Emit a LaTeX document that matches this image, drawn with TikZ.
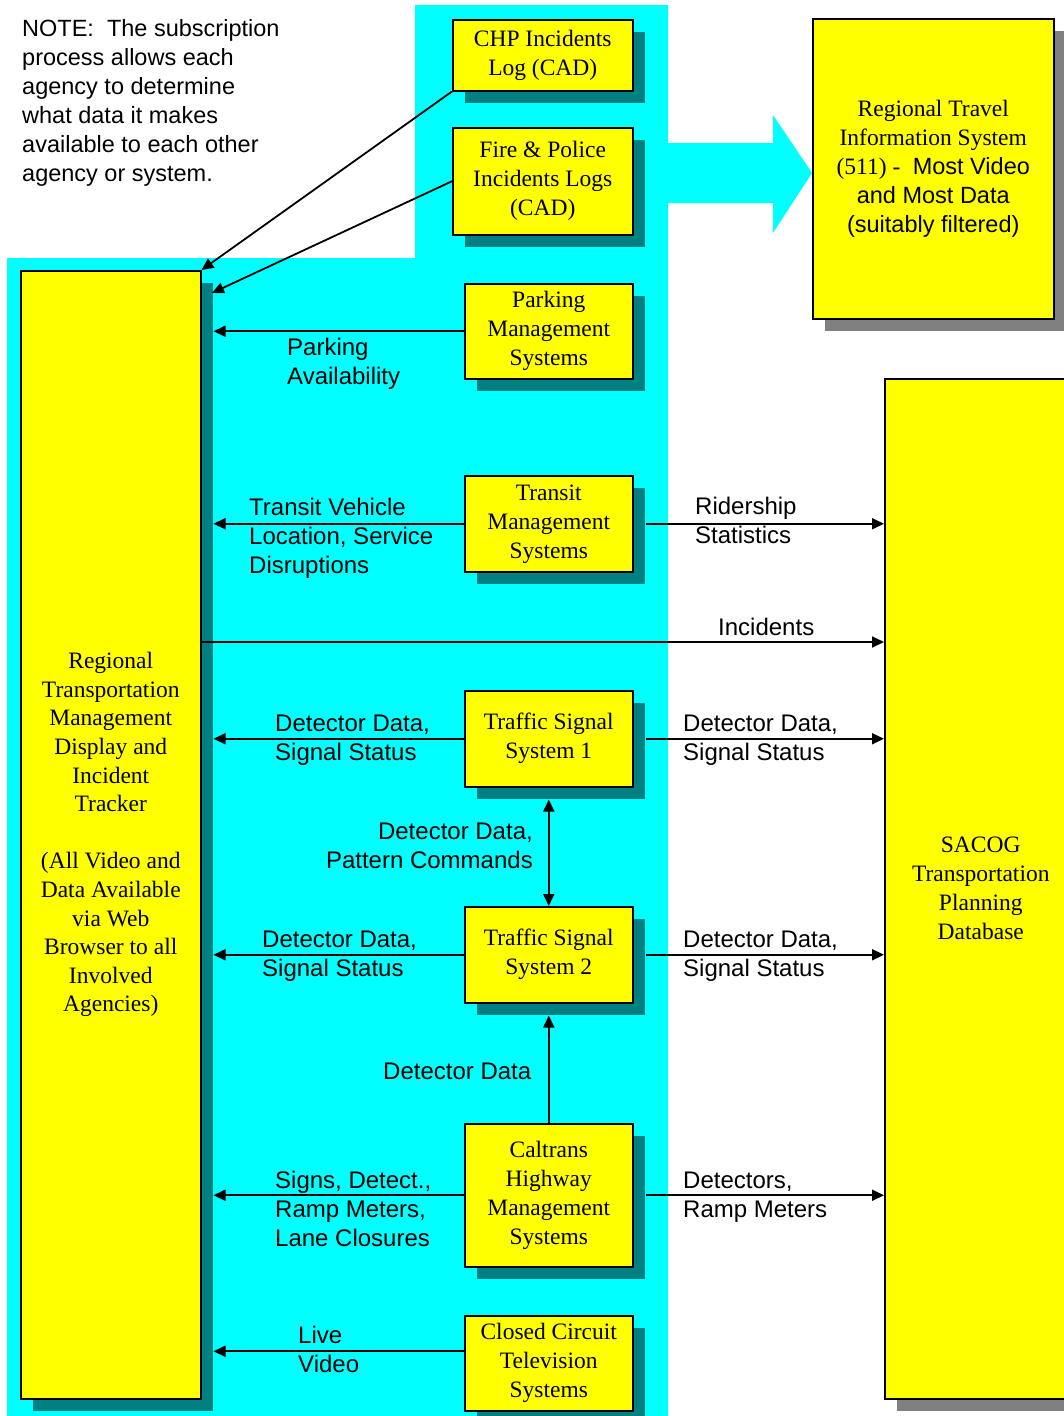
\documentclass[tikz,border=0pt]{standalone}
\usepackage{fontspec}
\setmainfont{Liberation Serif}
\setsansfont{Liberation Sans}
\usetikzlibrary{arrows.meta,shadows,calc}
\definecolor{cy}{RGB}{0,255,255}
\definecolor{yl}{RGB}{255,255,0}
\definecolor{tl}{RGB}{0,128,128}
\definecolor{gr}{RGB}{128,128,128}
\begin{document}
\begin{tikzpicture}[x=1pt,y=-1pt,
  box/.style={draw=black, line width=1.5pt, fill=yl, inner sep=0pt, align=center,
    font=\fontsize{23.5}{29}\selectfont, anchor=north west},
  tsh/.style={drop shadow={shadow xshift=12pt,shadow yshift=-12pt,fill=tl,opacity=1}},
  gsh/.style={drop shadow={shadow xshift=12pt,shadow yshift=-12pt,fill=gr,opacity=1}},
  lbl/.style={font=\sffamily\fontsize{24}{29}\selectfont, inner sep=0pt, align=left, anchor=base west},
  lblr/.style={font=\sffamily\fontsize{24}{29}\selectfont, inner sep=0pt, align=right, anchor=base east},
  arr/.style={line width=1.8pt, -{Triangle[length=12pt,width=11pt]}},
  darr/.style={line width=1.8pt, {Triangle[length=12pt,width=11pt]}-{Triangle[length=12pt,width=11pt]}},
]
\useasboundingbox (0,0) rectangle (1064,1416);
\fill[white] (0,0) rectangle (1064,1416);
% cyan region with block arrow
\fill[cy] (415,5) -- (668,5) -- (668,143) -- (773,143) -- (773,115) -- (812,173)
  -- (773,233) -- (773,203) -- (668,203) -- (668,1416) -- (7,1416) -- (7,258)
  -- (415,258) -- cycle;

% note (base = last line)
\node[lbl, font=\sffamily\fontsize{23.5}{29}\selectfont] (note) at (22,181)
  {NOTE:\ \ The subscription\\process allows each\\agency to determine\\what data it makes\\available to each other\\agency or system.};

% boxes
\node[box,gsh,minimum width=241,minimum height=300] (rtis) at (812,18)
  {Regional Travel\\Information System\\(511) - \textsf{ Most Video}\\\textsf{and Most Data}\\\textsf{(suitably filtered)}};
\node[box,gsh,minimum width=192,minimum height=1020] (sacog) at (884,378)
  {SACOG\\Transportation\\Planning\\Database};
\node[box,tsh,minimum width=180,minimum height=1128,font=\fontsize{23.5}{28.6}\selectfont] (rtmd) at (20,270)
  {Regional\\Transportation\\Management\\Display and\\Incident\\Tracker\\[28.6pt](All Video and\\Data Available\\via Web\\Browser to all\\Involved\\Agencies)};
\node[box,tsh,minimum width=180,minimum height=71] (chp) at (452,19) {CHP Incidents\\Log (CAD)};
\node[box,tsh,minimum width=180,minimum height=107] (fire) at (452,127) {Fire \& Police\\Incidents Logs\\(CAD)};
\node[box,tsh,minimum width=168,minimum height=95] (park) at (464,283) {Parking\\Management\\Systems};
\node[box,tsh,minimum width=168,minimum height=96] (transit) at (464,475) {Transit\\Management\\Systems};
\node[box,tsh,minimum width=168,minimum height=96] (tss1) at (464,690) {Traffic Signal\\System 1};
\node[box,tsh,minimum width=168,minimum height=96] (tss2) at (464,906) {Traffic Signal\\System 2};
\node[box,tsh,minimum width=168,minimum height=143] (calt) at (464,1123) {Caltrans\\Highway\\Management\\Systems};
\node[box,tsh,minimum width=168,minimum height=95] (cctv) at (464,1315) {Closed Circuit\\Television\\Systems};

% helper coordinates
\coordinate (shR) at ($(rtmd.north east)+(12,0)$);
\coordinate (fireEnd) at (212,293);
\coordinate (inc) at (200,642);
\coordinate (cctvOut) at ($(cctv.west)+(0,-12)$);

% connectors
\draw[arr] (chp.south west) -- (rtmd.north east);
\draw[arr] (fire.west) -- (fireEnd);
\draw[arr] (park.west) -- (park.west -| shR);
\draw[arr] (transit.west) -- (transit.west -| shR);
\draw[arr] ($(transit.east)+(12,0)$) -- (transit.east -| sacog.west);
\draw[arr] (inc) -- (inc -| sacog.west);
\draw[arr] (tss1.west) -- (tss1.west -| shR);
\draw[arr] ($(tss1.east)+(12,0)$) -- (tss1.east -| sacog.west);
\draw[darr] ($(tss1.south)+(0,12)$) -- (tss2.north);
\draw[arr] (tss2.west) -- (tss2.west -| shR);
\draw[arr] ($(tss2.east)+(12,0)$) -- (tss2.east -| sacog.west);
\draw[arr] (calt.north) -- ($(tss2.south)+(0,12)$);
\draw[arr] (calt.west) -- (calt.west -| shR);
\draw[arr] ($(calt.east)+(12,0)$) -- (calt.east -| sacog.west);
\draw[arr] (cctvOut) -- (cctvOut -| shR);

% labels (anchor = baseline of last line)
\node[lbl] (lpark) at (287,384) {Parking\\Availability};
\node[lbl] (ltransit) at (249,573) {Transit Vehicle\\Location, Service\\Disruptions};
\node[lbl] (lrider) at (695,543) {Ridership\\Statistics};
\node[lbl] (linc) at (718,635) {Incidents};
\node[lbl] (ltss1l) at (275,760) {Detector Data,\\Signal Status};
\node[lbl] (ltss1r) at (683,760) {Detector Data,\\Signal Status};
\node[lblr] (lpat) at (533,868) {Detector Data,\\Pattern Commands};
\node[lbl] (ltss2l) at (262,976) {Detector Data,\\Signal Status};
\node[lbl] (ltss2r) at (683,976) {Detector Data,\\Signal Status};
\node[lbl] (ldet) at (383,1079) {Detector Data};
\node[lbl] (lcaltl) at (275,1246) {Signs, Detect.,\\Ramp Meters,\\Lane Closures};
\node[lbl] (lcaltr) at (683,1217) {Detectors,\\Ramp Meters};
\node[lbl] (lcctv) at (298,1372) {Live\\Video};
\end{tikzpicture}
\end{document}
